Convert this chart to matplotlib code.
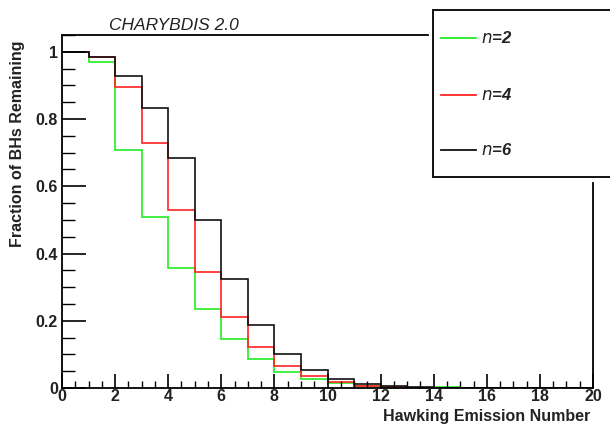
import numpy as np
import matplotlib
matplotlib.use("Agg")
import matplotlib.pyplot as plt
from matplotlib.patches import Rectangle
from matplotlib.lines import Line2D
from matplotlib.ticker import MultipleLocator

plt.rcParams["font.family"] = ["Liberation Sans", "DejaVu Sans"]

# Fraction of black holes still alive after each Hawking emission (bin width 1)
edges = np.arange(0, 21)
frac_n2 = [1.0, 0.970, 0.708, 0.510, 0.356, 0.236, 0.147, 0.085, 0.047, 0.027,
           0.016, 0.006, 0.003, 0.001, 0.002, 0, 0, 0, 0, 0]
frac_n4 = [1.0, 0.984, 0.894, 0.728, 0.530, 0.346, 0.210, 0.122, 0.066, 0.037,
           0.017, 0.005, 0.002, 0, 0, 0, 0, 0, 0, 0]
frac_n6 = [1.0, 0.984, 0.929, 0.833, 0.685, 0.500, 0.325, 0.187, 0.100, 0.054,
           0.027, 0.012, 0.006, 0.002, 0, 0, 0, 0, 0, 0]
series = [("n=2", frac_n2, "#22ee22"), ("n=4", frac_n4, "#ff2222"), ("n=6", frac_n6, "#111111")]

W, H = 610, 425
fig = plt.figure(figsize=(W / 100, H / 100), dpi=100)
ax = fig.add_axes([62 / W, 1 - 388 / H, (593 - 62) / W, (388 - 35) / H])

for label, vals, col in series:
    ax.stairs(vals, edges, baseline=None, color=col, lw=1.2)

ax.set_xlim(0, 20)
ax.set_ylim(0, 1.05)

ax.xaxis.set_major_locator(MultipleLocator(2))
ax.xaxis.set_minor_locator(MultipleLocator(0.5))
ax.yaxis.set_major_locator(MultipleLocator(0.2))
ax.yaxis.set_minor_locator(MultipleLocator(0.05))
ax.tick_params(axis="x", which="major", direction="in", length=10, width=1.2,
               labelsize=11.5, pad=1)
ax.tick_params(axis="x", which="minor", direction="in", length=5, width=1.0)
ax.tick_params(axis="y", which="major", direction="in", length=17, width=1.2,
               labelsize=11.5, pad=3)
ax.tick_params(axis="y", which="minor", direction="in", length=9, width=1.0)
ax.set_xticks(np.arange(0, 21, 2), [str(v) for v in range(0, 21, 2)])
ax.set_yticks([0, 0.2, 0.4, 0.6, 0.8, 1.0], ["0", "0.2", "0.4", "0.6", "0.8", "1"])
for t in ax.get_xticklabels() + ax.get_yticklabels():
    t.set_fontweight("bold")
    t.set_color("#222222")

for s in ax.spines.values():
    s.set_linewidth(1.3)
ax.spines["right"].set_bounds(0, (388 - 183) / 336)
ax.spines["top"].set_bounds(0, (428 - 62) / 26.55)

fig.text(590 / W, 1 - 416 / H, "Hawking Emission Number", ha="right", va="center",
         fontsize=11.5, fontweight="bold", color="#222222")
fig.text(18 / W, 1 - 144 / H, "Fraction of BHs Remaining", rotation=90, ha="center",
         va="center", fontsize=11.5, fontweight="bold", color="#222222")
fig.text(174 / W, 1 - 26 / H, "CHARYBDIS 2.0", ha="center", va="center",
         fontsize=12.5, style="italic", color="#222222")

# legend box in the top-right corner, running off the canvas edge
box = Rectangle((433 / W, 1 - 177 / H), (W - 433 + 20) / W, (177 - 10) / H,
                transform=fig.transFigure, facecolor="white", edgecolor="#111111",
                lw=1.4, zorder=5, clip_on=False)
fig.add_artist(box)
for (label, vals, col), yp in zip(series, [38, 95, 150]):
    yf = 1 - yp / H
    fig.add_artist(Line2D([441 / W, 476 / W], [yf, yf], transform=fig.transFigure,
                          color=col, lw=1.3, zorder=6))
    fig.text(481 / W, yf, "$\\mathit{n}$=" + label[2:], ha="left", va="center",
             fontsize=12, fontweight="bold", style="italic", color="#222222", zorder=6)

fig.savefig("out.png", dpi=100)
